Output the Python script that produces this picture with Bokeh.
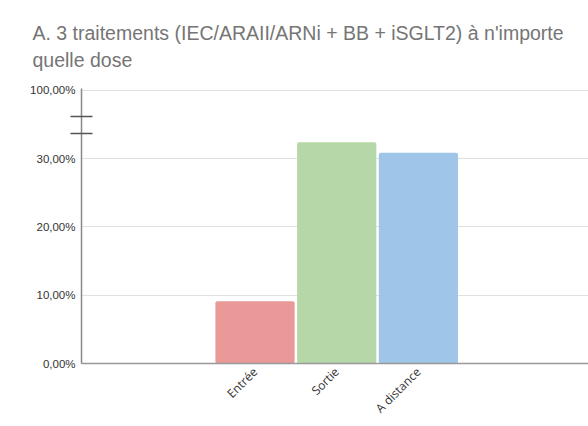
from bokeh.plotting import figure
from bokeh.models import Range1d, FixedTicker
from bokeh.embed import file_html
from bokeh.resources import INLINE
import math

# ---- data ----
title_lines = ["A. 3 traitements (IEC/ARAII/ARNi + BB + iSGLT2) à n'importe", "quelle dose"]
categories = ["Entrée", "Sortie", "A distance"]
values = [9.12, 32.43, 30.88]          # percent
colors = ["#ea9999", "#b6d7a8", "#9fc5e8"]
y_ticks = [0, 10, 20, 30, 40]
y_tick_labels = ["0,00%", "10,00%", "20,00%", "30,00%", "100,00%"]   # 40 stands for 100 % (axis break)
break_marks = [33.67, 36.19]

xs = list(range(1, len(categories) + 1))

p = figure(width=588, height=426, output_backend="svg", toolbar_location=None,
           x_range=Range1d(-1.124, 5.082), y_range=Range1d(0, 40.29),
           min_border_left=81, min_border_right=0, min_border_top=88, min_border_bottom=63)

p.vbar(x=xs, top=values, width=0.97, fill_color=colors, line_color=None, bottom=0,
       border_radius=2)

# title
p.title.text = "\n".join(title_lines)
p.title.text_font = "Liberation Sans"
p.title.text_font_size = "19.5px"
p.title.text_font_style = "normal"
p.title.text_color = "#757575"
p.title.text_line_height = 1.25
p.title.align = "left"
p.title.offset = -49
p.title.standoff = 35

p.outline_line_color = None
p.background_fill_color = "white"

# x axis
p.xaxis.ticker = FixedTicker(ticks=xs)
p.xaxis.major_label_overrides = {x: c for x, c in zip(xs, categories)}
p.xaxis.major_label_orientation = math.pi / 4
p.xaxis.major_tick_line_color = None
p.xaxis.minor_tick_line_color = None
p.xaxis.major_tick_out = 0
p.xaxis.major_tick_in = 0
p.xaxis.minor_tick_out = 0
p.xaxis.minor_tick_in = 0
p.xaxis.axis_line_color = "#999999"
p.xaxis.axis_line_width = 1.5
p.xaxis.major_label_text_font = "Open Sans"
p.xaxis.major_label_text_font_size = "12px"
p.xaxis.major_label_text_color = "#333333"
p.xaxis.major_label_standoff = 6
p.xgrid.grid_line_color = None

# y axis (break drawn with minor tick marks crossing the axis line)
p.yaxis.ticker = FixedTicker(ticks=y_ticks, minor_ticks=break_marks)
p.yaxis.major_label_overrides = {t: l for t, l in zip(y_ticks, y_tick_labels)}
p.yaxis.major_tick_line_color = None
p.yaxis.major_tick_out = 0
p.yaxis.major_tick_in = 0
p.yaxis.minor_tick_line_color = "#555555"
p.yaxis.minor_tick_line_width = 1.3
p.yaxis.minor_tick_in = 11
p.yaxis.minor_tick_out = 11
p.yaxis.axis_line_color = "#888888"
p.yaxis.axis_line_width = 1.5
p.yaxis.major_label_text_font = "Liberation Sans"
p.yaxis.major_label_text_font_size = "11.5px"
p.yaxis.major_label_text_color = "#333333"
p.yaxis.major_label_standoff = -5
p.ygrid.ticker = FixedTicker(ticks=y_ticks[1:])
p.ygrid.grid_line_color = "#e0e0e0"
p.ygrid.grid_line_width = 1

open("out.html", "w").write(file_html(p, INLINE))
